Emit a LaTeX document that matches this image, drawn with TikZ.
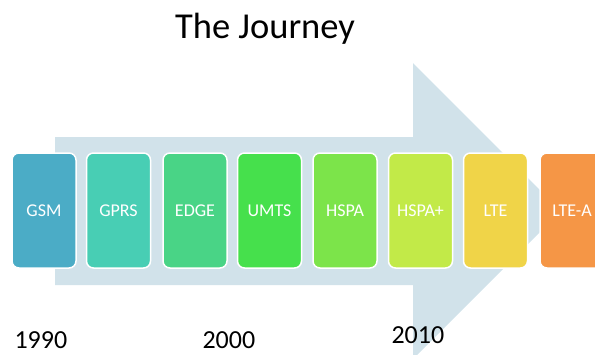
\documentclass[tikz,border=0pt]{standalone}
\usepackage{fontspec}
\setmainfont{Carlito}
\usepackage{xcolor}
\usepackage{tikz}
\usetikzlibrary{positioning}

\definecolor{arrowbg}{RGB}{209,226,234}
\definecolor{cgsm}{RGB}{75,172,198}
\definecolor{cgprs}{RGB}{72,206,180}
\definecolor{cedge}{RGB}{73,212,134}
\definecolor{cumts}{RGB}{70,224,76}
\definecolor{chspa}{RGB}{124,228,74}
\definecolor{chspap}{RGB}{194,234,72}
\definecolor{clte}{RGB}{240,212,72}
\definecolor{cltea}{RGB}{245,150,70}

\begin{document}
\begin{tikzpicture}[x=1pt,y=-1pt,
    gen/.style={rectangle,rounded corners=7pt,draw=white,line width=1.5pt,
        minimum width=64pt,minimum height=115pt,text=white,
        font=\fontsize{18}{21}\selectfont},
    year/.style={anchor=base west,font=\fontsize{26}{30}\selectfont}]
    \clip (0,0) rectangle (595,354);

    % 标题
    \node[anchor=base,font=\fontsize{36.5}{42}\selectfont] (title) at (265,38) {The Journey};

    % 背景箭头
    \fill[arrowbg] (55,137) -- (413,137) -- (413,63) -- (561,211)
        -- (413,359) -- (413,285) -- (55,285) -- cycle;

    % 各代技术
    \node[gen,fill=cgsm] (gsm) at (44,210.5) {GSM};
    \node[gen,fill=cgprs] (gprs) at (118.5,210.5) {GPRS};
    \node[gen,fill=cedge] (edge) at (195,210.5) {EDGE};
    \node[gen,fill=cumts] (umts) at (269.5,210.5) {UMTS};
    \node[gen,fill=chspa] (hspa) at (345,210.5) {HSPA};
    \node[gen,fill=chspap] (hspap) at (420.5,210.5) {HSPA+};
    \node[gen,fill=clte] (lte) at (495.5,210.5) {LTE};
    \node[gen,fill=cltea] (ltea) at (572,210.5) {LTE-A};

    % 年份
    \node[year] (y1990) at (11,348) {1990};
    \node[year] (y2000) at (199,348) {2000};
    \node[year] (y2010) at (388,343) {2010};
\end{tikzpicture}
\end{document}
